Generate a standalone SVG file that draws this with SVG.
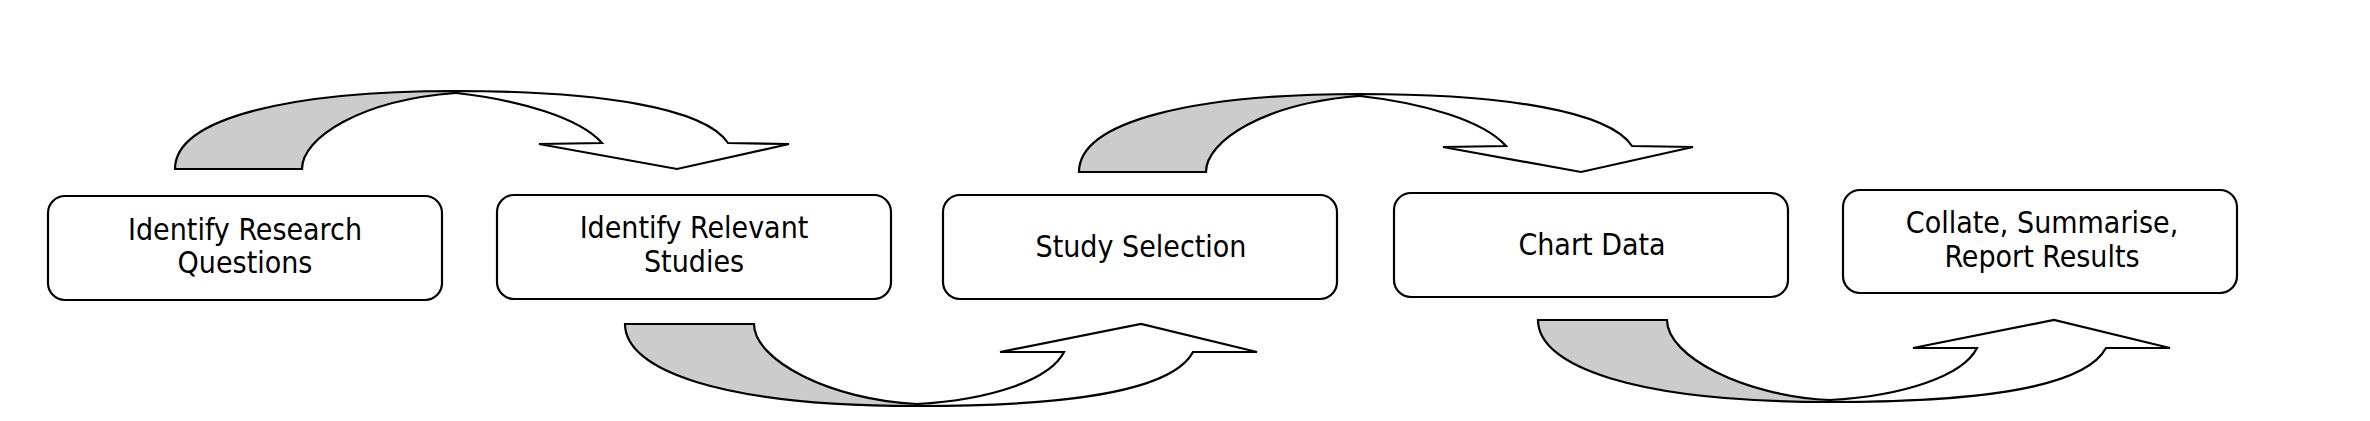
<svg xmlns="http://www.w3.org/2000/svg" xmlns:xlink="http://www.w3.org/1999/xlink" width="2370" height="421" viewBox="0 0 2370 421">
<style>
.box{fill:#ffffff;stroke:#000000;stroke-width:2.2}
.lbl{font-family:'DejaVu Sans Condensed','DejaVu Sans',sans-serif;font-stretch:condensed;font-size:30px;fill:#000000;text-anchor:middle}
.back{fill:#cccccc;stroke:#000000;stroke-width:2.2;stroke-linejoin:miter}
.front{fill:#ffffff;stroke:#000000;stroke-width:2.2;stroke-linejoin:miter}
</style>
<defs>
<g id="arrowDown">
<path class="back" d="M175,169 C175,118 290,91 456,91 L456,93 C360,100 302,138 302,169 Z"/>
<path class="front" d="M456,91 C600,91 705,108 728,143 L789,144 L677,169 L539,144 L602,143 C580,118 520,100 456,93 Z"/>
</g>
<g id="arrowUp">
<path class="back" d="M625,324 C625,370 720,406 917,406 L917,404 C830,400 754,360 754,324 Z"/>
<path class="front" d="M917,406 C1050,406 1170,395 1193,352 L1257,352 L1141,324 L1000,352 L1064,352 C1050,380 990,400 917,404 Z"/>
</g>
</defs>
<rect x="0" y="0" width="2370" height="421" fill="#ffffff"/>
<g id="connectors">
<use id="arrow1" xlink:href="#arrowDown" href="#arrowDown"/>
<use id="arrow2" xlink:href="#arrowDown" href="#arrowDown" transform="translate(904,3)"/>
<use id="arrow3" xlink:href="#arrowUp" href="#arrowUp"/>
<use id="arrow4" xlink:href="#arrowUp" href="#arrowUp" transform="translate(913,-4)"/>
</g>
<g id="node1">
<rect class="box" x="48" y="196" width="394" height="104" rx="17" ry="17"/>
<text class="lbl" x="245" y="240">Identify Research</text>
<text class="lbl" x="245" y="273">Questions</text>
</g>
<g id="node2">
<rect class="box" x="497" y="195" width="394" height="104" rx="17" ry="17"/>
<text class="lbl" x="694" y="238">Identify Relevant</text>
<text class="lbl" x="694" y="272">Studies</text>
</g>
<g id="node3">
<rect class="box" x="943" y="195" width="394" height="104" rx="17" ry="17"/>
<text class="lbl" x="1141" y="257">Study Selection</text>
</g>
<g id="node4">
<rect class="box" x="1394" y="193" width="394" height="104" rx="17" ry="17"/>
<text class="lbl" x="1592" y="255">Chart Data</text>
</g>
<g id="node5">
<rect class="box" x="1843" y="190" width="394" height="103" rx="17" ry="17"/>
<text class="lbl" x="2042" y="233">Collate, Summarise,</text>
<text class="lbl" x="2042" y="267">Report Results</text>
</g>
</svg>
